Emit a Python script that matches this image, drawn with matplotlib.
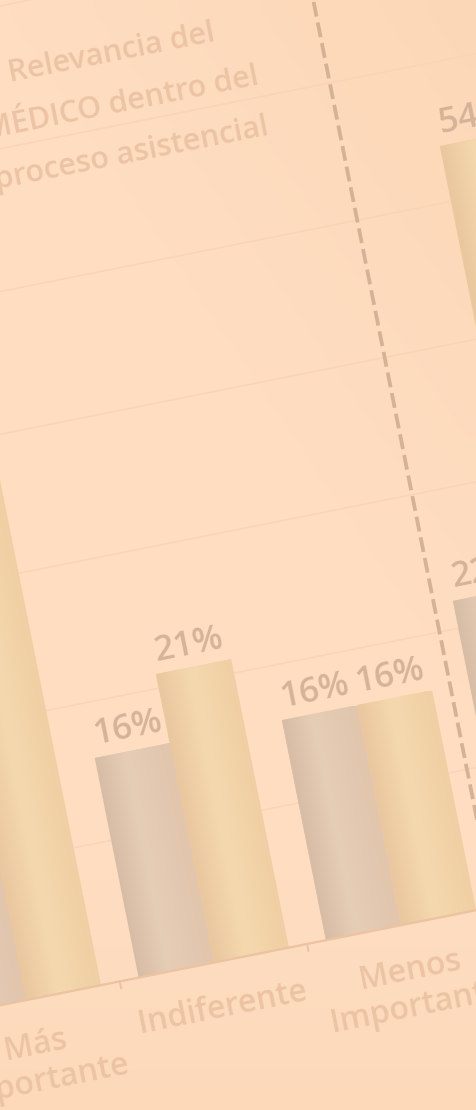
import numpy as np
import matplotlib.pyplot as plt
from matplotlib.colors import LinearSegmentedColormap
from matplotlib.transforms import Affine2D

# Valores (panel del MEDICO + comienzo del panel siguiente)
categorias = ["Más\nImportante", "Indiferente", "Menos\nImportante"]
serie_gris = [68, 16, 16]
serie_tan = [63, 21, 16]
panel2_gris = [22]
panel2_tan = [54]
titulo = ["Relevancia del", "MÉDICO dentro del", "proceso asistencial"]
grid_vals = [10, 20, 30, 40, 50, 60, 70]

W, H = 476, 1110
ANG = 11.3  # la imagen esta girada

bg = "#FDDBBE"
c_grid = "#F9D4B5"
c_axis = "#EDC2A0"
c_num = "#D4B399"
c_txt = "#ECC3A3"
c_sep = "#D5B195"

plt.rcParams['font.family'] = ['Open Sans', 'DejaVu Sans']

fig = plt.figure(figsize=(W / 100, H / 100), dpi=100)
fig.patch.set_facecolor(bg)

# fondo con un degradado suave
axbg = fig.add_axes([0, 0, 1, 1], zorder=-1)
axbg.axis("off")
yy, xx = np.mgrid[0:1:60j, 0:1:30j]
fondo = 0.55 * np.clip(xx - yy * 1.6, 0, 1) + 0.35 * np.clip(yy - 0.8, 0, 1) * 5
cmap_bg = LinearSegmentedColormap.from_list("bg", ["#FEDDC1", "#FCD3AF"])
axbg.imshow(fondo, cmap=cmap_bg, vmin=0, vmax=1, aspect="auto",
            extent=(0, 1, 0, 1), origin="upper", interpolation="bicubic")

ax = fig.add_axes([0, 0, 1, 1])
ax.patch.set_alpha(0)
ax.axis("off")

rot = Affine2D().rotate_deg_around(W / 2, H / 2, ANG)
tr = ax.transData + rot

cmap_gris = LinearSegmentedColormap.from_list(
    "gris", [(0, "#D8BDA6"), (0.4, "#E6CDB6"), (1, "#E1C5AD")])
cmap_tan = LinearSegmentedColormap.from_list(
    "tan", [(0, "#EAC79E"), (0.45, "#F5D9AE"), (1, "#EFCFA3")])
grad = np.linspace(0, 1, 64).reshape(1, -1)


def barras(xs, vals, cmap, base):
    bars = ax.bar(xs, vals, 0.4, color=base, transform=tr, zorder=2)
    for r in bars:
        x0, w, h = r.get_x(), r.get_width(), r.get_height()
        im = ax.imshow(grad, cmap=cmap, extent=(x0, x0 + w, 0, h), aspect="auto",
                       transform=tr, interpolation="bicubic", zorder=3)
        im.set_clip_path(r)
    return bars


xs = np.arange(len(categorias))
xs2 = np.arange(len(panel2_gris)) + len(categorias)

# lineas de division
for g in grid_vals:
    ax.plot([-0.5, 4.5], [g, g], color=c_grid, lw=1.1, transform=tr, zorder=1)

barras(xs - 0.2, serie_gris, cmap_gris, "#E2C8B0")
barras(xs + 0.2, serie_tan, cmap_tan, "#F2D3A8")
barras(xs2 - 0.2, panel2_gris, cmap_gris, "#E2C8B0")
barras(xs2 + 0.2, panel2_tan, cmap_tan, "#F2D3A8")

# eje horizontal y marcas
ax.plot([-0.5, 4.5], [0, 0], color=c_axis, lw=1.6, transform=tr, zorder=4)
for t in [-0.5, 0.5, 1.5, 2.5, 3.5]:
    ax.plot([t, t], [0, -0.5], color=c_axis, lw=1.4, transform=tr, zorder=4)

# separador entre paneles
ax.plot([2.5, 2.5], [-3, 75], color=c_sep, lw=2.7, ls=(0, (4.0, 1.6)),
        transform=tr, zorder=5)

# etiquetas de valor
for x, v in list(zip(xs - 0.2, serie_gris)) + list(zip(xs + 0.2, serie_tan)) \
        + list(zip(xs2 - 0.2, panel2_gris)) + list(zip(xs2 + 0.2, panel2_tan)):
    ax.text(x, v + 1.6, f"{v}%", transform=tr, rotation=ANG, rotation_mode="anchor",
            ha="center", va="center", fontsize=25, fontweight="semibold",
            color=c_num, zorder=6)

# etiquetas de categoria
for x, lab in zip(xs, categorias):
    ax.text(x, -2.1, lab, transform=tr, rotation=ANG, rotation_mode="anchor",
            ha="center", va="top", fontsize=23, fontweight="semibold",
            color=c_txt, linespacing=1.15, zorder=6)

# titulo del panel
for k, linea in enumerate(titulo):
    ax.text(1.408, 65.1 - 3.65 * k, linea, transform=tr, rotation=ANG,
            rotation_mode="anchor", ha="center", va="center", fontsize=22,
            fontweight="semibold", color=c_txt, zorder=6)

ax.set_xlim(0.2984, 2.7906)
ax.set_ylim(-11.43, 67.86)

fig.savefig("out.png", dpi=100, facecolor=bg)
